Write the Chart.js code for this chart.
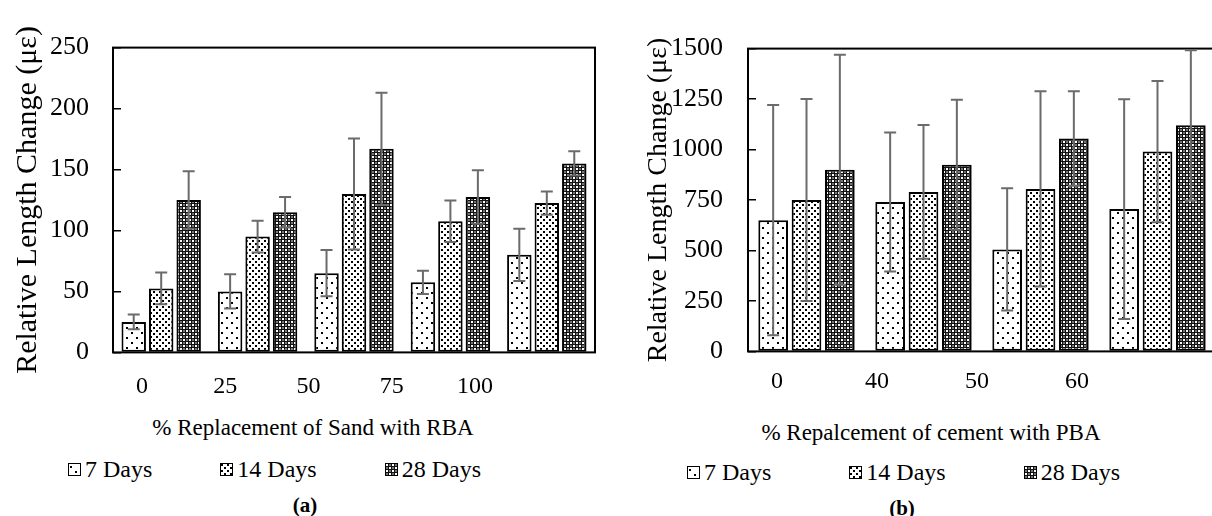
<!DOCTYPE html>
<html>
<head>
<meta charset="utf-8">
<script src="https://cdn.jsdelivr.net/npm/chart.js@4.4.1/dist/chart.umd.min.js"></script>
<style>
  html, body { margin: 0; padding: 0; background: #fff; overflow: hidden; width: 1212px; height: 516px; }
  body { position: relative; font-family: 'Liberation Serif', 'DejaVu Serif', 'Noto Serif', serif; color: #000; }
  canvas { position: absolute; top: 0; }
  #chartA { left: 0; }
  #chartB { left: 616px; }
  .axis-title { position: absolute; font-size: 23px; line-height: 23px; white-space: nowrap; transform: translate(-50%, -50%); }
  .legend { position: absolute; display: flex; align-items: center; font-size: 24px; line-height: 24px; white-space: nowrap; transform: translateY(-50%); }
  .legend .item { display: flex; align-items: center; }
  .legend .box { width: 11px; height: 11px; border: 1px solid #000; margin-right: 4px; }
  .caption { position: absolute; font-weight: bold; font-size: 21px; line-height: 21px; transform: translate(-50%, -50%); }
</style>
</head>
<body>
<canvas id="chartA" width="600" height="400"></canvas>
<canvas id="chartB" width="600" height="400"></canvas>

<div class="axis-title" style="left:313px; top:427px">% Replacement of Sand with RBA</div>
<div class="legend" id="legendA" style="left:68px; top:469px; gap:68px"></div>
<div class="caption" style="left:305px; top:505px">(a)</div>

<div class="axis-title" style="left:931px; top:432px">% Repalcement of cement with PBA</div>
<div class="legend" id="legendB" style="left:687px; top:472px; gap:78px"></div>
<div class="caption" style="left:902px; top:508px">(b)</div>

<script>
// (a) sand replaced with RBA
const sandLabels = ['0', '25', '50', '75', '100'];
const sand7 = [25, 50, 65, 57.5, 80];
const sand14 = [52.5, 95, 130, 107.5, 122.5];
const sand28 = [125, 115, 167, 127.5, 155];
const sand7Err = [6, 14, 19, 9.5, 21.5];
const sand14Err = [13, 13, 45.5, 17, 9.5];
const sand28Err = [23.5, 12.5, 46, 22, 10];

// (b) cement replaced with PBA
const cementLabels = ['0', '40', '50', '60'];
const cement7 = [650, 740, 505, 705];
const cement14 = [750, 790, 805, 990];
const cement28 = [900, 925, 1055, 1120];
const cement7Err = [570, 344, 303, 544];
const cement14Err = [500, 331, 484, 350];
const cement28Err = [570, 322, 234, 372];

const seriesNames = ['7 Days', '14 Days', '28 Days'];
const yTitle = 'Relative Length Change (με)';
const serif = "'Liberation Serif', 'DejaVu Serif', 'Noto Serif', serif";

// fill patterns for the three curing ages
function tile(size, bg, dots) {
    const c = document.createElement('canvas');
    c.width = c.height = size;
    const g = c.getContext('2d');
    g.fillStyle = bg;
    g.fillRect(0, 0, size, size);
    dots.forEach(d => {
        g.fillStyle = d[3];
        g.fillRect(d[0], d[1], d[2], d[2]);
    });
    return c;
}
const tiles = [
    tile(10, '#fff', [[1, 2, 2, '#000'], [6, 7, 2, '#000']]),
    tile(6, '#fff', [[0, 0, 2, '#000'], [3, 3, 2, '#000']]),
    tile(6, '#111', [[0, 0, 2, '#fff'], [3, 3, 2, '#fff'], [3, 0, 2, '#777'], [0, 3, 2, '#777']])
];
const patterns = tiles.map(t => t.getContext('2d').createPattern(t, 'repeat'));

// box round the plot area
const frame = {
    id: 'frame',
    afterDatasetsDraw(chart) {
        const a = chart.chartArea, ctx = chart.ctx;
        ctx.save();
        ctx.strokeStyle = '#000';
        ctx.lineWidth = 2;
        ctx.strokeRect(a.left, a.top, a.right - a.left, a.bottom - a.top);
        ctx.restore();
    }
};

// +/- error bars, taken from dataset.errors
const errorBars = {
    id: 'errorBars',
    afterDatasetsDraw(chart) {
        const ctx = chart.ctx, y = chart.scales.y;
        ctx.save();
        ctx.strokeStyle = '#6b6b6b';
        ctx.lineWidth = 2;
        chart.data.datasets.forEach((ds, i) => {
            chart.getDatasetMeta(i).data.forEach((bar, j) => {
                const top = y.getPixelForValue(ds.data[j] + ds.errors[j]);
                const bot = y.getPixelForValue(ds.data[j] - ds.errors[j]);
                ctx.beginPath();
                ctx.moveTo(bar.x, top); ctx.lineTo(bar.x, bot);
                ctx.moveTo(bar.x - 6, top); ctx.lineTo(bar.x + 6, top);
                ctx.moveTo(bar.x - 6, bot); ctx.lineTo(bar.x + 6, bot);
                ctx.stroke();
            });
        });
        ctx.restore();
    }
};

function makeChart(id, labels, values, errors, o) {
    return new Chart(document.getElementById(id), {
        type: 'bar',
        data: {
            labels: labels,
            datasets: values.map((v, i) => ({
                label: seriesNames[i],
                data: v,
                errors: errors[i],
                xAxisID: 'x',
                yAxisID: 'y',
                backgroundColor: patterns[i],
                borderColor: '#000',
                borderWidth: 2,
                borderSkipped: false,
                categoryPercentage: 0.855,
                barPercentage: 0.89
            }))
        },
        options: {
            responsive: false,
            animation: false,
            layout: { padding: { top: 22, right: o.padRight, left: 0, bottom: 0 } },
            plugins: { legend: { display: false }, tooltip: { enabled: false } },
            scales: {
                x: { display: false },
                // category names sit on their own axis below the bars
                xl: {
                    type: 'linear',
                    position: 'bottom',
                    offset: false,
                    min: o.labelMin,
                    max: o.labelMax,
                    afterBuildTicks: s => { s.ticks = labels.map((l, i) => ({ value: i })); },
                    afterFit: s => { s.height = o.labelHeight; },
                    grid: { display: false, drawTicks: false, offset: false },
                    border: { display: false },
                    ticks: {
                        callback: v => labels[v],
                        color: '#000',
                        font: { family: serif, size: 24 },
                        padding: o.labelPad,
                        maxRotation: 0,
                        autoSkip: false
                    }
                },
                y: {
                    min: 0,
                    max: o.yMax,
                    afterFit: s => { s.width = o.yWidth; },
                    ticks: {
                        stepSize: o.yStep,
                        callback: v => String(v),
                        color: '#000',
                        font: { family: serif, size: 26 },
                        padding: o.tickPad
                    },
                    grid: { drawOnChartArea: false, tickLength: -8, color: '#000', lineWidth: 1.5 },
                    border: { display: false },
                    title: {
                        display: true,
                        text: yTitle,
                        color: '#000',
                        font: { family: serif, size: o.titleSize },
                        padding: { top: o.titlePad, bottom: 0 }
                    }
                }
            }
        },
        plugins: [frame, errorBars]
    });
}

makeChart('chartA', sandLabels, [sand7, sand14, sand28], [sand7Err, sand14Err, sand28Err], {
    padRight: 5, labelMin: -0.348, labelMax: 5.442, labelHeight: 47, labelPad: 20,
    yMax: 250, yStep: 50, yWidth: 113, tickPad: 32, titleSize: 30, titlePad: 10
});
makeChart('chartB', cementLabels, [cement7, cement14, cement28], [cement7Err, cement14Err, cement28Err], {
    padRight: 0, labelMin: -0.29, labelMax: 4.39, labelHeight: 42, labelPad: 16,
    yMax: 1500, yStep: 250, yWidth: 132, tickPad: 33, titleSize: 28, titlePad: 26
});

// legends under each panel
function buildLegend(id) {
    const el = document.getElementById(id);
    seriesNames.forEach((name, i) => {
        const item = document.createElement('span');
        item.className = 'item';
        const box = document.createElement('span');
        box.className = 'box';
        box.style.backgroundImage = 'url(' + tiles[i].toDataURL() + ')';
        item.appendChild(box);
        item.appendChild(document.createTextNode(name));
        el.appendChild(item);
    });
}
buildLegend('legendA');
buildLegend('legendB');
</script>
</body>
</html>
